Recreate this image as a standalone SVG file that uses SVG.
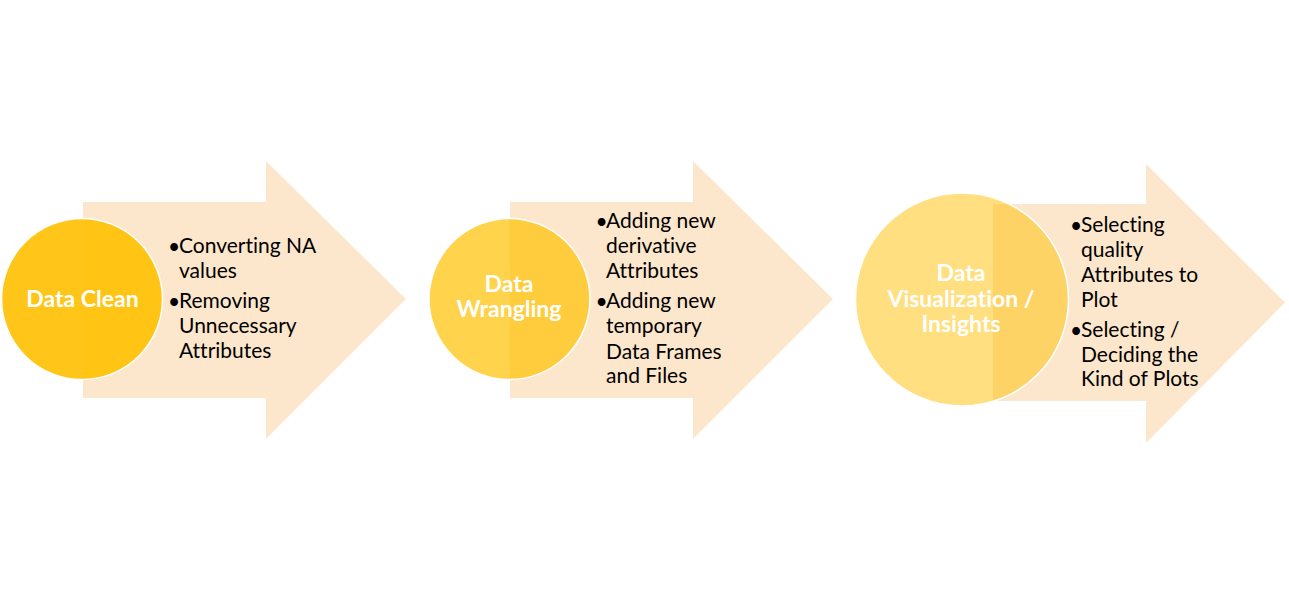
<svg xmlns="http://www.w3.org/2000/svg" width="1289" height="599" viewBox="0 0 1289 599">
<style>
.arrow{fill:#FDE7CC;}
.circ{stroke:#FFFFFF;stroke-width:1.5;}
.lbl{font-family:Lato,"Liberation Sans",sans-serif;font-weight:bold;font-size:23px;fill:#FFFFFF;text-anchor:middle;font-variant-ligatures:none;font-feature-settings:"liga" 0;}
.txt{font-family:Lato,"Liberation Sans",sans-serif;font-size:21px;fill:#000000;font-variant-ligatures:none;font-feature-settings:"liga" 0;}
.bul{font-family:Lato,"Liberation Sans",sans-serif;font-size:21px;fill:#000000;text-anchor:middle;}
</style>
<rect width="1289" height="599" fill="#FFFFFF"/>
<g id="connectors"></g>
<g id="step1">
<polygon class="arrow" points="83,202 266,202 266,161 406,299 266,439 266,398 83,398"/>
<circle class="circ" cx="82" cy="299" r="80.5" fill="#FFC000" fill-opacity="0.9"/>
<text class="lbl" x="82.5" y="307">Data Clean</text>
<text class="bul" x="174" y="254">•</text>
<text class="txt"><tspan x="179" y="253">Converting NA</tspan><tspan x="179" y="278">values</tspan></text>
<text class="bul" x="174" y="309">•</text>
<text class="txt"><tspan x="179" y="308">Removing</tspan><tspan x="179" y="333">Unnecessary</tspan><tspan x="179" y="358">Attributes</tspan></text>
</g>
<g id="step2">
<polygon class="arrow" points="510,202 693,202 693,161 833,299 693,439 693,398 510,398"/>
<circle class="circ" cx="509.5" cy="299" r="80.5" fill="#FFC000" fill-opacity="0.7"/>
<text class="lbl"><tspan x="509" y="291.5">Data</tspan><tspan x="509" y="317">Wrangling</tspan></text>
<text class="bul" x="601.5" y="229">•</text>
<text class="txt"><tspan x="606" y="228">Adding new</tspan><tspan x="606" y="253">derivative</tspan><tspan x="606" y="278">Attributes</tspan></text>
<text class="bul" x="601.5" y="309">•</text>
<text class="txt"><tspan x="606" y="308">Adding new</tspan><tspan x="606" y="333">temporary</tspan><tspan x="606" y="358.5">Data Frames</tspan><tspan x="606" y="383">and Files</tspan></text>
</g>
<g id="step3">
<polygon class="arrow" points="993,204 1146,204 1146,164 1285,302.5 1146,443 1146,401 993,401"/>
<circle class="circ" cx="962" cy="299.5" r="106.5" fill="#FFC000" fill-opacity="0.5"/>
<text class="lbl"><tspan x="961" y="281">Data</tspan><tspan x="961" y="306.5">Visualization /</tspan><tspan x="961" y="332">Insights</tspan></text>
<text class="bul" x="1076" y="233">•</text>
<text class="txt"><tspan x="1081" y="232">Selecting</tspan><tspan x="1081" y="257">quality</tspan><tspan x="1081" y="282">Attributes to</tspan><tspan x="1081" y="307">Plot</tspan></text>
<text class="bul" x="1076" y="338">•</text>
<text class="txt"><tspan x="1081" y="337">Selecting /</tspan><tspan x="1081" y="362">Deciding the</tspan><tspan x="1081" y="386">Kind of Plots</tspan></text>
</g>
</svg>
